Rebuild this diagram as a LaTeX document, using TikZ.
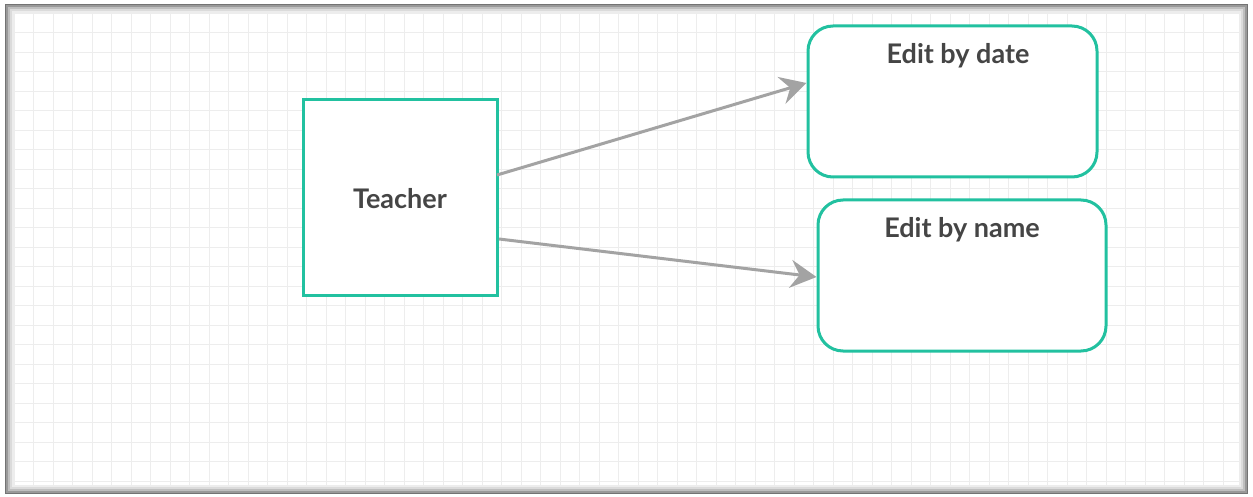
\documentclass[tikz,border=0pt]{standalone}
\usepackage{fontspec}
\setmainfont{Lato}
\usetikzlibrary{arrows.meta}
\definecolor{teal1}{HTML}{22C1A0}
\definecolor{arrowgray}{HTML}{A3A3A3}
\definecolor{txt}{HTML}{454545}
\definecolor{gridc}{HTML}{EDEDED}
\tikzset{
  box/.style={draw=teal1, line width=3pt, fill=white, inner sep=0pt},
  conn/.style={draw=arrowgray, line width=3pt, -{Stealth[length=26pt, width=28pt, inset=9pt]}},
  lbl/.style={font=\fontsize{27}{32}\selectfont\bfseries, text=txt, inner sep=0pt}
}
\begin{document}
\begin{tikzpicture}[x=1pt,y=-1pt]
\useasboundingbox (0,0) rectangle (1253,497);
\fill[white] (0,0) rectangle (1253,497);
% shadowed frame
\fill[black!55] (5,4) rectangle (1248,494);
\fill[black!40] (6,5) rectangle (1247,493);
\fill[black!25] (8,7) rectangle (1245,491);
\fill[black!14] (10,9) rectangle (1243,489);
\fill[black!7] (12,11) rectangle (1241,487);
\fill[white] (14,13) rectangle (1239,485);
% grid
\begin{scope}
\clip (14,13) rectangle (1239,485);
\foreach \gx in {0,...,64} {\draw[gridc, line width=0.8pt] ({14+19.5*\gx},13) -- ({14+19.5*\gx},485);}
\foreach \gy in {0,...,24} {\draw[gridc, line width=0.8pt] (14,{13+19.5*\gy}) -- (1239,{13+19.5*\gy});}
\end{scope}
% nodes
\node[box, minimum width=194pt, minimum height=195pt] (teacher) at (400,197.5) {};
\node[lbl] (tt) at (400,199) {Teacher};
\node[box, rounded corners=25pt, minimum width=289pt, minimum height=151pt] (date) at (952.5,101.5) {};
\node[lbl] (dt) at (958,56) {Edit by date};
\node[box, rounded corners=25pt, minimum width=288pt, minimum height=151pt] (name) at (962,275.5) {};
\node[lbl] (nt) at (962,230) {Edit by name};
% connectors
\coordinate (s1) at (497,175);
\coordinate (s2) at (499,239);
\draw[conn] (s1) -- (date.west |- 0,83);
\draw[conn] (s2) -- (name.west |- 0,277);
\end{tikzpicture}
\end{document}
